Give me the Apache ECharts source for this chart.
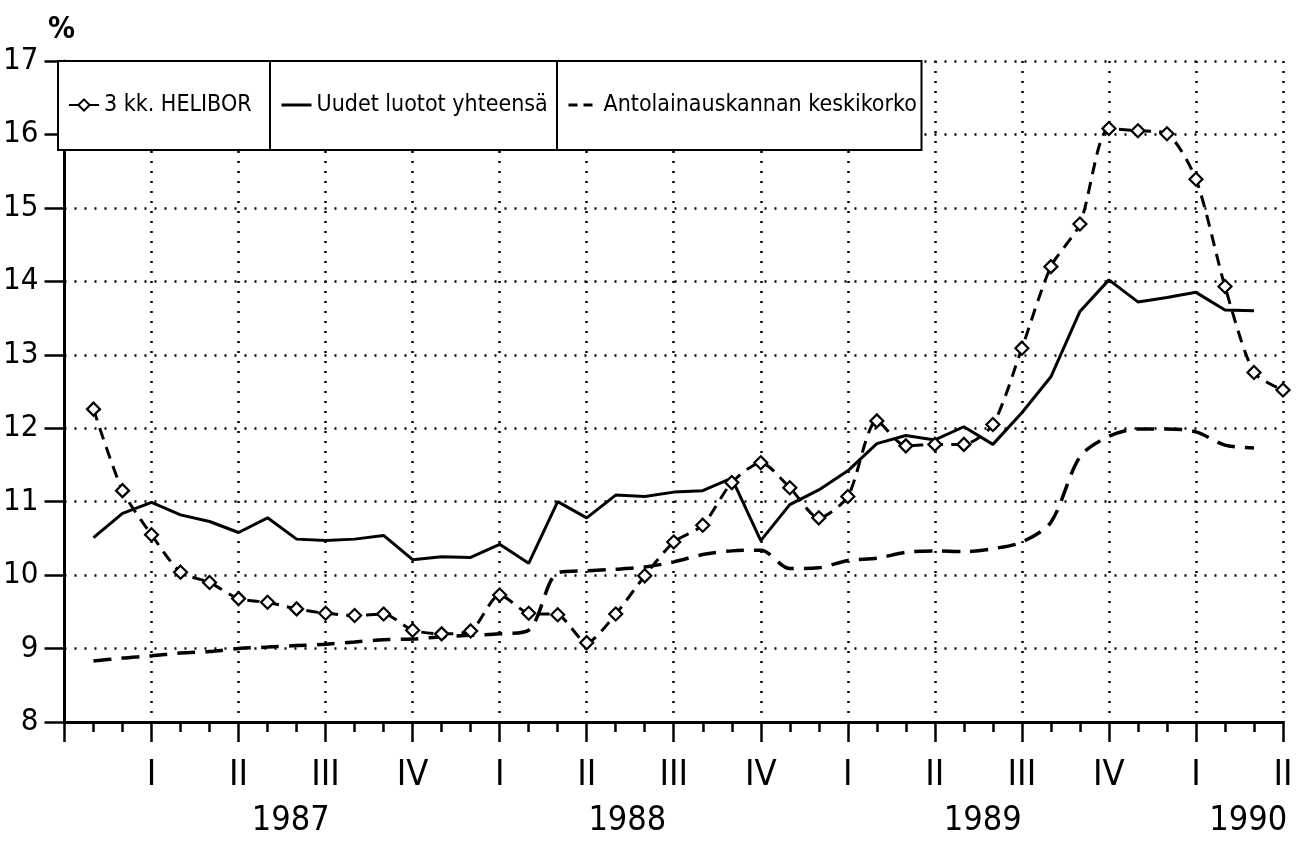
<!DOCTYPE html>
<html>
<head>
<meta charset="utf-8">
<script src="https://cdn.jsdelivr.net/npm/echarts@6/dist/echarts.min.js"></script>
<style>
html,body{margin:0;padding:0;background:#fff;}
#chart{width:1299px;height:844px;}
</style>
</head>
<body>
<div id="chart"></div>
<script>
// Series names
var seriesNames = ['3 kk. HELIBOR', 'Uudet luotot yhteensä', 'Antolainauskannan keskikorko'];
// Month index of first observation (x axis runs 0..42 months)
var firstMonth = 1;
// Monthly values (%)
var helibor = [12.26, 11.15, 10.55, 10.04, 9.90, 9.68, 9.63, 9.54, 9.48, 9.45, 9.47, 9.25, 9.20, 9.24, 9.73, 9.48,
  9.46, 9.08, 9.47, 9.99, 10.45, 10.68, 11.26, 11.53, 11.19, 10.78, 11.07, 12.10, 11.76, 11.78, 11.78, 12.05,
  13.09, 14.20, 14.78, 16.08, 16.05, 16.01, 15.39, 13.93, 12.76, 12.52];
var uudet = [10.51, 10.84, 10.99, 10.82, 10.73, 10.58, 10.78, 10.49, 10.47, 10.49, 10.54, 10.21, 10.25, 10.24, 10.42, 10.16,
  11.00, 10.78, 11.09, 11.07, 11.13, 11.15, 11.32, 10.47, 10.96, 11.16, 11.42, 11.79, 11.90, 11.84, 12.02, 11.78,
  12.21, 12.70, 13.59, 14.02, 13.72, 13.78, 13.85, 13.61, 13.60];
var antolainaus = [8.83, 8.87, 8.90, 8.94, 8.96, 9.00, 9.02, 9.04, 9.06, 9.09, 9.12, 9.13, 9.16, 9.18, 9.20, 9.25,
  10.03, 10.06, 10.08, 10.11, 10.18, 10.28, 10.33, 10.34, 10.09, 10.10, 10.20, 10.23, 10.31, 10.33, 10.32, 10.36,
  10.45, 10.72, 11.61, 11.89, 11.99, 11.99, 11.95, 11.77, 11.73];
// Quarter tick labels (every 3 months, starting at month 0)
var quarterLabels = ['', 'I', 'II', 'III', 'IV', 'I', 'II', 'III', 'IV', 'I', 'II', 'III', 'IV', 'I', 'II'];
// Year labels and their month positions on the x axis
var yearLabels = ['1987', '1988', '1989', '1990'];
var yearAt = [7.8, 19.4, 31.65, 40.8];

function pairs(arr) { return arr.map(function (v, i) { return [firstMonth + i, v]; }); }

var FONT = "'Liberation Sans Narrow', 'DejaVu Sans Condensed', 'Arial Narrow', sans-serif";
var dotted = { color: '#000', width: 2.5, type: [2, 8] };

function legendBox(name, left, width, hideSymbol, iconDash) {
  var item = { name: name };
  if (hideSymbol) { item.itemStyle = { opacity: 0 }; }
  if (iconDash) { item.lineStyle = { type: iconDash, width: 3, color: '#000' }; }
  return {
    left: left, top: 61, orient: 'horizontal',
    data: [item],
    backgroundColor: '#fff', borderColor: '#000', borderWidth: 2, borderRadius: 0,
    padding: [27, 4, 28, 10],
    itemWidth: 30, itemHeight: 14,
    selectedMode: false,
    textStyle: { fontFamily: FONT, fontSize: 23, color: '#000', width: width - 49, lineHeight: 34, overflow: 'none' }
  };
}

var chart = echarts.init(document.getElementById('chart'), null, { renderer: 'canvas' });
chart.setOption({
  animation: false,
  backgroundColor: '#fff',
  grid: { left: 61, right: 16, top: 61, bottom: 122, containLabel: false },
  legend: [
    legendBox(seriesNames[0], 58, 212, false, null),
    legendBox(seriesNames[1], 270, 287, true, 'solid'),
    legendBox(seriesNames[2], 557, 363, true, [9, 6])
  ],
  xAxis: [{
    type: 'value', min: 0, max: 42, interval: 3,
    axisLine: { show: true, onZero: false, lineStyle: { color: '#000', width: 3 } },
    axisTick: { show: true, length: 20, lineStyle: { color: '#000', width: 2.5 } },
    minorTick: { show: true, splitNumber: 3, length: 10, lineStyle: { color: '#000', width: 2.5 } },
    splitLine: { show: true, lineStyle: dotted },
    axisLabel: {
      margin: 36, fontFamily: FONT, fontSize: 36, color: '#000', verticalAlign: 'top',
      formatter: function (v) { return quarterLabels[Math.round(v / 3)] || ''; }
    }
  }, {
    type: 'value', min: 0, max: 42, position: 'bottom',
    axisLine: { show: false }, axisTick: { show: false }, splitLine: { show: false },
    axisLabel: {
      customValues: yearAt, margin: 82, fontFamily: FONT, fontSize: 34, color: '#000', verticalAlign: 'top',
      formatter: function (v) {
        for (var k = 0; k < yearAt.length; k++) { if (Math.abs(yearAt[k] - v) < 1e-6) return yearLabels[k]; }
        return '';
      }
    }
  }],
  yAxis: {
    type: 'value', min: 8, max: 17, interval: 1,
    name: '%', nameLocation: 'end', nameGap: 16,
    nameTextStyle: { fontFamily: FONT, fontSize: 30, color: '#000', fontWeight: 'bold', padding: [0, 6, 0, 0] },
    axisLine: { show: true, lineStyle: { color: '#000', width: 3 } },
    axisTick: { show: true, length: 20, lineStyle: { color: '#000', width: 2.5 } },
    splitLine: { show: true, lineStyle: dotted },
    axisLabel: { margin: 26, fontFamily: FONT, fontSize: 31, color: '#000' }
  },
  series: [{
    name: seriesNames[0], type: 'line', xAxisIndex: 0, data: pairs(helibor),
    smooth: 0.25, symbol: 'diamond', symbolSize: 13, showSymbol: true,
    lineStyle: { color: '#000', width: 3, type: [12, 8] },
    itemStyle: { color: '#fff', borderColor: '#000', borderWidth: 2.2 },
    z: 3
  }, {
    name: seriesNames[1], type: 'line', xAxisIndex: 0, data: pairs(uudet),
    smooth: false, symbol: 'none', showSymbol: false,
    lineStyle: { color: '#000', width: 3, type: 'solid' },
    itemStyle: { color: '#000' }
  }, {
    name: seriesNames[2], type: 'line', xAxisIndex: 0, data: pairs(antolainaus),
    smooth: 0.3, symbol: 'none', showSymbol: false,
    lineStyle: { color: '#000', width: 3.5, type: [18, 10] },
    itemStyle: { color: '#000' }
  }]
});
</script>
</body>
</html>
